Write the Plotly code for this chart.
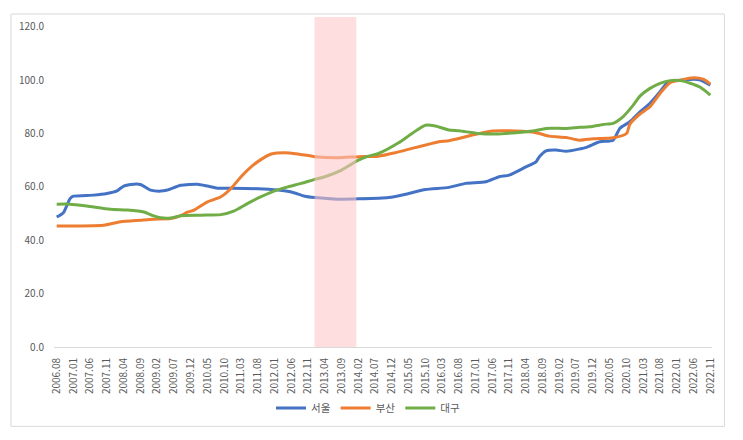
import plotly.graph_objects as go

# ---------------- data ----------------
tick_labels = ["2006.08", "2007.01", "2007.06", "2007.11", "2008.04", "2008.09", "2009.02", "2009.07",
               "2009.12", "2010.05", "2010.10", "2011.03", "2011.08", "2012.01", "2012.06", "2012.11",
               "2013.04", "2013.09", "2014.02", "2014.07", "2014.12", "2015.05", "2015.10", "2016.03",
               "2016.08", "2017.01", "2017.06", "2017.11", "2018.04", "2018.09", "2019.02", "2019.07",
               "2019.12", "2020.05", "2020.10", "2021.03", "2021.08", "2022.01", "2022.06", "2022.11"]

y_ticks = [0, 20, 40, 60, 80, 100, 120]

seoul_x = ["2006.08", "2006.10", "2006.12", "2007.01", "2007.07", "2007.11", "2008.02", "2008.04",
           "2008.07", "2008.09", "2008.12", "2009.03", "2009.05", "2009.09", "2010.02", "2010.05",
           "2010.08", "2010.12", "2011.08", "2012.02", "2012.06", "2012.10", "2013.01", "2013.08",
           "2014.02", "2014.11", "2015.05", "2015.10", "2016.05", "2016.10", "2017.04", "2017.08",
           "2017.11", "2018.04", "2018.07", "2018.08", "2018.10", "2019.01", "2019.04", "2019.08",
           "2019.10", "2020.02", "2020.06", "2020.08", "2020.11", "2021.02", "2021.05", "2021.08",
           "2021.10", "2021.12", "2022.03", "2022.06", "2022.08", "2022.11"]
seoul_y = [48.7, 50.3, 55.6, 56.5, 56.9, 57.5, 58.5, 60.3,
           61.0, 60.9, 58.8, 58.4, 58.8, 60.6, 61.0, 60.3,
           59.5, 59.5, 59.3, 58.8, 58.1, 56.5, 56.0, 55.4,
           55.5, 56.0, 57.5, 59.0, 59.8, 61.3, 61.9, 63.8,
           64.4, 67.5, 69.4, 71.3, 73.5, 73.8, 73.3, 74.2,
           74.8, 76.9, 77.5, 81.9, 84.4, 88.1, 91.3, 95.6,
           98.8, 99.8, 100.0, 100.3, 100.0, 98.1]

busan_x = ["2006.08", "2007.10", "2008.03", "2008.09", "2009.01", "2009.06", "2009.09", "2009.11",
           "2010.01", "2010.05", "2010.09", "2010.12", "2011.03", "2011.06", "2011.09", "2011.12",
           "2012.04", "2012.08", "2013.01", "2013.08", "2014.02", "2014.08", "2015.01", "2015.06",
           "2015.12", "2016.02", "2016.05", "2016.08", "2016.12", "2017.06", "2018.01", "2018.07",
           "2018.11", "2019.04", "2019.08", "2019.12", "2020.06", "2020.10", "2020.11", "2021.02",
           "2021.05", "2021.08", "2021.11", "2022.02", "2022.06", "2022.09", "2022.11"]
busan_y = [45.3, 45.6, 46.9, 47.5, 47.9, 48.1, 49.2, 50.5,
           51.3, 54.4, 56.3, 59.4, 63.8, 67.5, 70.3, 72.3,
           72.8, 72.3, 71.3, 70.9, 71.3, 71.5, 72.8, 74.4,
           76.3, 76.9, 77.3, 78.1, 79.4, 80.9, 80.9, 80.3,
           79.0, 78.5, 77.5, 78.0, 78.4, 80.0, 83.5, 87.3,
           90.0, 95.0, 99.0, 100.0, 100.9, 100.3, 98.5]

daegu_x = ["2006.08", "2006.12", "2007.05", "2007.12", "2008.05", "2008.10", "2009.01", "2009.03",
           "2009.06", "2009.09", "2010.03", "2010.09", "2011.01", "2011.05", "2011.09", "2012.01",
           "2012.05", "2012.09", "2013.01", "2013.04", "2013.09", "2014.02", "2014.05", "2014.08",
           "2015.02", "2015.06", "2015.10", "2016.01", "2016.05", "2016.08", "2017.02", "2017.07",
           "2018.01", "2018.06", "2018.10", "2019.04", "2019.08", "2019.11", "2020.03", "2020.06",
           "2020.09", "2020.12", "2021.02", "2021.05", "2021.08", "2021.11", "2022.02", "2022.05",
           "2022.08", "2022.11"]
daegu_y = [53.5, 53.5, 52.8, 51.6, 51.3, 50.6, 49.1, 48.4,
           48.3, 49.2, 49.4, 49.6, 51.0, 53.8, 56.3, 58.5,
           60.0, 61.3, 62.8, 63.8, 66.3, 70.0, 71.5, 72.5,
           76.5, 80.0, 83.1, 82.8, 81.3, 81.0, 80.0, 79.8,
           80.3, 80.9, 81.9, 81.9, 82.3, 82.5, 83.4, 83.8,
           86.3, 90.6, 94.0, 96.9, 98.8, 99.8, 99.8, 98.8,
           97.3, 94.4]

shade_start, shade_end = "2013.01", "2014.01"

# ---------------- axis categories (all months) ----------------
months = []
for yr in range(2006, 2023):
    for m in range(1, 13):
        lab = f"{yr}.{m:02d}"
        if "2006.08" <= lab <= "2022.11":
            months.append(lab)
pos = {lab: i for i, lab in enumerate(months)}

fig = go.Figure()
for name, xs, ys, col in [("서울", seoul_x, seoul_y, "#4472C4"),
                          ("부산", busan_x, busan_y, "#ED7D31"),
                          ("대구", daegu_x, daegu_y, "#70AD47")]:
    fig.add_trace(go.Scatter(x=xs, y=ys, mode="lines", name=name,
                             line=dict(color=col, width=3, shape="spline", smoothing=0.6)))

# shaded period (drawn above lines, semi-transparent)
fig.add_shape(type="rect", xref="x", yref="y domain",
              x0=pos[shade_start] - 0.1, x1=pos[shade_end] + 0.4, y0=0, y1=1,
              fillcolor="rgba(255,196,198,0.56)", line=dict(width=0), layer="above")

# outer chart border
L, R, T, B = 54.0, 711.6, 17.0, 346.7
W, H = R - L, B - T
fig.add_shape(type="rect", xref="paper", yref="paper",
              x0=(11 - L) / W, x1=(724 - L) / W, y0=(B - 14) / H, y1=(B - 426) / H,
              line=dict(color="#D9D9D9", width=1), fillcolor="rgba(0,0,0,0)", layer="below")

font_fam = "Noto Sans CJK KR, Noto Sans, sans-serif"
fig.update_layout(
    width=743, height=440,
    margin=dict(l=L, r=743 - R, t=T, b=440 - B, autoexpand=False),
    paper_bgcolor="white", plot_bgcolor="white",
    font=dict(family=font_fam, size=10, color="#595959"),
    showlegend=True,
    legend=dict(orientation="h", xref="container", yref="container",
                x=368 / 743, xanchor="center", y=1 - 408 / 440, yanchor="middle",
                font=dict(size=10.5, color="#595959"), itemwidth=30, tracegroupgap=0),
    xaxis=dict(type="category", categoryorder="array", categoryarray=months,
               range=[-0.8, 195.5], tickmode="array", tickvals=tick_labels, ticktext=tick_labels,
               tickangle=-90, showgrid=False, zeroline=False, showline=True, automargin=False,
               linecolor="#D9D9D9", linewidth=1, ticks="", ticklabelstandoff=6,
               tickfont=dict(size=10, color="#595959")),
    yaxis=dict(range=[0, (B - T) / ((B - 26.7) / 120)], tickmode="array", tickvals=y_ticks,
               ticktext=[f"{v:.1f}" for v in y_ticks], showgrid=False, zeroline=False,
               showline=False, ticks="", ticklabelstandoff=9, automargin=False,
               tickfont=dict(size=10, color="#595959")),
)

fig.write_html("out.html")
